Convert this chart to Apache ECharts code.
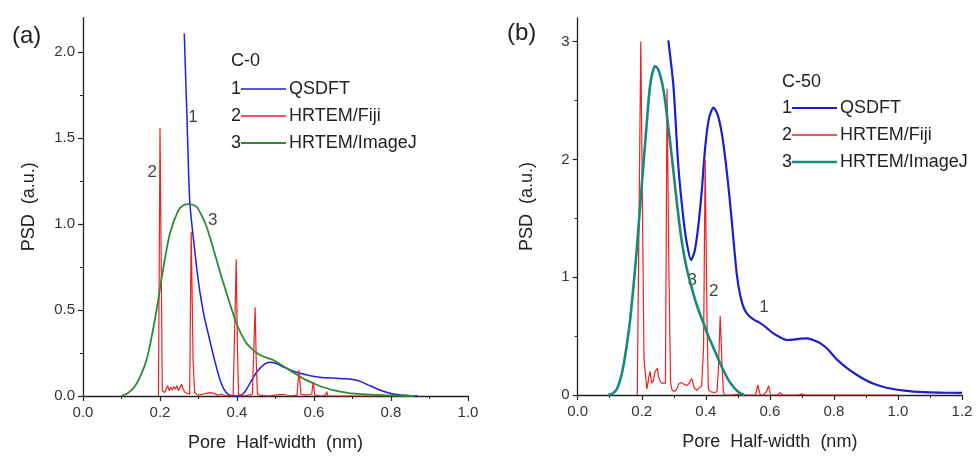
<!DOCTYPE html>
<html>
<head>
<meta charset="utf-8">
<script src="https://cdn.jsdelivr.net/npm/echarts@6/dist/echarts.min.js"></script>
<style>
  html, body { margin: 0; padding: 0; background: #fff; }
  #chart { width: 976px; height: 462px; }
</style>
</head>
<body>
<div id="chart"></div>
<script>
// ── Data: panel (a) C-0 ─────────────────────────────────────────────
const qsdftA = [
  [0.263, 2.107], [0.270, 1.62], [0.277, 1.14], [0.285, 0.95], [0.295, 0.75], [0.304, 0.60],
  [0.315, 0.46], [0.325, 0.365], [0.335, 0.27], [0.345, 0.18], [0.356, 0.093], [0.366, 0.04],
  [0.377, 0.01], [0.39, 0.002], [0.405, 0.0], [0.415, 0.01], [0.425, 0.04], [0.44, 0.10],
  [0.455, 0.15], [0.47, 0.183], [0.486, 0.196], [0.50, 0.19], [0.52, 0.17], [0.54, 0.15],
  [0.564, 0.132], [0.59, 0.118], [0.62, 0.108], [0.65, 0.104], [0.68, 0.10], [0.70, 0.096],
  [0.72, 0.085], [0.74, 0.065], [0.76, 0.045], [0.78, 0.028], [0.80, 0.015], [0.82, 0.007],
  [0.85, 0.002], [0.87, 0.0]
];
const fijiA = [
  [0.196, 0.0], [0.200, 1.56], [0.206, 0.03], [0.212, 0.02], [0.216, 0.04], [0.22, 0.06],
  [0.224, 0.03], [0.228, 0.05], [0.232, 0.035], [0.236, 0.055], [0.24, 0.04], [0.244, 0.06],
  [0.248, 0.03], [0.252, 0.05], [0.256, 0.07], [0.26, 0.04], [0.265, 0.02], [0.27, 0.01],
  [0.277, 0.01], [0.281, 0.953], [0.286, 0.2], [0.29, 0.02], [0.30, 0.005], [0.31, 0.01],
  [0.315, 0.02], [0.32, 0.015], [0.325, 0.025], [0.33, 0.02], [0.335, 0.01], [0.34, 0.015],
  [0.35, 0.005], [0.36, 0.01], [0.37, 0.0], [0.38, 0.005], [0.39, 0.0], [0.395, 0.01],
  [0.398, 0.795], [0.401, 0.3], [0.404, 0.01], [0.41, 0.005], [0.42, 0.0], [0.43, 0.005],
  [0.44, 0.01], [0.444, 0.3], [0.447, 0.516], [0.45, 0.2], [0.453, 0.01], [0.46, 0.005],
  [0.48, 0.0], [0.50, 0.005], [0.52, 0.01], [0.54, 0.0], [0.556, 0.005], [0.561, 0.151],
  [0.566, 0.01], [0.58, 0.005], [0.594, 0.01], [0.598, 0.083], [0.602, 0.005], [0.62, 0.0],
  [0.63, 0.005], [0.633, 0.025], [0.636, 0.0], [0.65, 0.0], [0.70, 0.0], [0.80, 0.0]
];
const imagejA = [
  [0.10, 0.0], [0.115, 0.015], [0.131, 0.045], [0.148, 0.11], [0.165, 0.209], [0.178, 0.34],
  [0.191, 0.5], [0.209, 0.75], [0.226, 0.946], [0.248, 1.081], [0.262, 1.11], [0.274, 1.116],
  [0.285, 1.112], [0.295, 1.10], [0.308, 1.05], [0.321, 0.984], [0.334, 0.89], [0.347, 0.79],
  [0.36, 0.69], [0.373, 0.597], [0.386, 0.505], [0.399, 0.42], [0.412, 0.355], [0.425, 0.306],
  [0.443, 0.265], [0.46, 0.238], [0.477, 0.222], [0.494, 0.209], [0.51, 0.188], [0.529, 0.161],
  [0.546, 0.136], [0.564, 0.112], [0.58, 0.092], [0.598, 0.074], [0.615, 0.058], [0.633, 0.045],
  [0.65, 0.034], [0.668, 0.025], [0.69, 0.017], [0.719, 0.012], [0.75, 0.008], [0.78, 0.005],
  [0.82, 0.002], [0.86, 0.0]
];
const notesA = [[0.287, 1.62, '1'], [0.181, 1.30, '2'], [0.338, 1.02, '3']];

// ── Data: panel (b) C-50 ────────────────────────────────────────────
const qsdftB = [
  [0.283, 3.01], [0.299, 2.62], [0.314, 1.95], [0.33, 1.50], [0.342, 1.27], [0.354, 1.146],
  [0.365, 1.22], [0.375, 1.40], [0.387, 1.72], [0.398, 2.10], [0.41, 2.35], [0.424, 2.44],
  [0.437, 2.38], [0.45, 2.22], [0.462, 1.98], [0.474, 1.68], [0.486, 1.33], [0.497, 1.02],
  [0.508, 0.84], [0.52, 0.73], [0.535, 0.67], [0.55, 0.64], [0.57, 0.61], [0.59, 0.57],
  [0.61, 0.525], [0.632, 0.49], [0.653, 0.467], [0.675, 0.47], [0.695, 0.478], [0.716, 0.48],
  [0.737, 0.465], [0.757, 0.44], [0.78, 0.39], [0.81, 0.30], [0.84, 0.23], [0.872, 0.17],
  [0.90, 0.125], [0.924, 0.095], [0.95, 0.072], [0.976, 0.055], [1.02, 0.037], [1.08, 0.024],
  [1.14, 0.02], [1.2, 0.018]
];
const fijiB = [
  [0.186, 0.0], [0.197, 3.0], [0.207, 0.3], [0.216, 0.05], [0.222, 0.15], [0.226, 0.2],
  [0.231, 0.1], [0.236, 0.12], [0.242, 0.2], [0.249, 0.226], [0.253, 0.15], [0.257, 0.12],
  [0.262, 0.1], [0.268, 0.09], [0.274, 0.1], [0.279, 2.6], [0.285, 1.0], [0.29, 0.1],
  [0.295, 0.04], [0.302, 0.03], [0.309, 0.05], [0.317, 0.1], [0.325, 0.105], [0.333, 0.09],
  [0.341, 0.08], [0.348, 0.1], [0.356, 0.14], [0.364, 0.06], [0.372, 0.04], [0.38, 0.06],
  [0.387, 0.08], [0.393, 0.4], [0.398, 1.995], [0.404, 0.6], [0.408, 0.05], [0.413, 0.03],
  [0.419, 0.02], [0.427, 0.02], [0.435, 0.03], [0.439, 0.2], [0.445, 0.67], [0.45, 0.3],
  [0.455, 0.02], [0.46, 0.0], [0.48, 0.0], [0.50, 0.005], [0.52, 0.0], [0.54, 0.0],
  [0.555, 0.0], [0.5625, 0.085], [0.57, 0.0], [0.58, 0.0], [0.59, 0.03], [0.596, 0.08],
  [0.602, 0.0], [0.61, 0.0], [0.625, 0.0], [0.632, 0.02], [0.64, 0.0], [0.66, 0.0],
  [0.69, 0.0], [0.70, 0.01], [0.71, 0.0], [0.75, 0.0], [0.85, 0.0], [1.0, 0.0]
];
const imagejB = [
  [0.096, 0.0], [0.11, 0.015], [0.122, 0.05], [0.133, 0.13], [0.143, 0.25], [0.153, 0.42],
  [0.163, 0.62], [0.174, 0.92], [0.184, 1.22], [0.192, 1.5], [0.2, 1.78], [0.208, 2.05],
  [0.216, 2.32], [0.223, 2.55], [0.229, 2.68], [0.236, 2.76], [0.242, 2.79], [0.25, 2.77],
  [0.257, 2.72], [0.265, 2.63], [0.273, 2.50], [0.28, 2.34], [0.288, 2.16], [0.296, 1.97],
  [0.304, 1.77], [0.312, 1.58], [0.32, 1.40], [0.33, 1.22], [0.34, 1.08], [0.353, 0.94],
  [0.367, 0.806], [0.38, 0.70], [0.393, 0.609], [0.408, 0.50], [0.424, 0.40], [0.44, 0.30],
  [0.455, 0.21], [0.47, 0.13], [0.486, 0.07], [0.50, 0.03], [0.51, 0.012], [0.52, 0.0]
];
const notesB = [[0.359, 0.97, '3'], [0.426, 0.872, '2'], [0.583, 0.736, '1']];

const seriesNames = ['QSDFT', 'HRTEM/Fiji', 'HRTEM/ImageJ'];
const yTicksA = [0, 0.5, 1.0, 1.5, 2.0];
const yTicksB = [0, 1, 2, 3];

// ── Styles ──────────────────────────────────────────────────────────
const FONT = '"Liberation Sans", Arial, sans-serif';
const INK = '#222';
const colorsA = ['#1d1de8', '#ee2020', '#2e8a34'];
const colorsB = ['#1e1ecc', '#ee2020', '#17897b'];
const widthsA = [1.5, 1.2, 1.8];
const widthsB = [2.2, 1.2, 2.6];

function xAxis(gridIndex, max) {
  return {
    type: 'value', gridIndex, min: 0, max, interval: 0.2,
    name: 'Pore  Half-width  (nm)', nameLocation: 'middle', nameGap: 38,
    nameTextStyle: { fontFamily: FONT, fontSize: 18, color: INK },
    axisLine: { show: true, onZero: false, lineStyle: { color: INK, width: 1.3 } },
    axisTick: { show: true, inside: false, length: 5, lineStyle: { color: INK, width: 1.2 } },
    minorTick: { show: true, splitNumber: 2, length: 3, lineStyle: { color: INK, width: 1 } },
    axisLabel: { fontFamily: FONT, fontSize: 15, color: '#333', margin: 9, formatter: v => v.toFixed(1) },
    splitLine: { show: false }
  };
}
function yAxis(gridIndex, max, interval, ticks, fmt, gap) {
  return {
    type: 'value', gridIndex, min: 0, max, interval,
    name: 'PSD  (a.u.)', nameLocation: 'middle', nameGap: gap,
    nameTextStyle: { fontFamily: FONT, fontSize: 18, color: INK },
    axisLine: { show: true, onZero: false, lineStyle: { color: INK, width: 1.3 } },
    axisTick: { show: true, inside: false, length: 5, customValues: ticks, lineStyle: { color: INK, width: 1.2 } },
    minorTick: { show: true, splitNumber: 2, length: 3, lineStyle: { color: INK, width: 1 } },
    axisLabel: { fontFamily: FONT, fontSize: 15, color: '#333', margin: 8, customValues: ticks, formatter: fmt },
    splitLine: { show: false }
  };
}
function line(name, data, idx, color, width) {
  return {
    type: 'line', name, data, xAxisIndex: idx, yAxisIndex: idx,
    showSymbol: false, symbol: 'none', smooth: name === 'HRTEM/Fiji' ? false : 0.25,
    lineStyle: { color, width }, itemStyle: { color }, silent: true, clip: true
  };
}
function notes(data, idx) {
  return {
    type: 'scatter', data, xAxisIndex: idx, yAxisIndex: idx, symbolSize: 1,
    itemStyle: { color: 'rgba(0,0,0,0)' }, silent: true,
    label: { show: true, position: [0, 0], align: 'center', verticalAlign: 'middle',
      formatter: p => p.value[2], fontFamily: FONT, fontSize: 17, color: '#111',
      textBorderWidth: 0 }
  };
}
function legendBlock(x, titleY, rowYs, title, colors, widths) {
  const els = [{ type: 'text', style: { text: title, x, y: titleY, font: '18px ' + FONT, fill: INK, verticalAlign: 'middle' } }];
  seriesNames.forEach((n, i) => {
    els.push({ type: 'text', style: { text: String(i + 1), x, y: rowYs[i], font: '18px ' + FONT, fill: INK, verticalAlign: 'middle' } });
    els.push({ type: 'line', shape: { x1: x + 10, y1: rowYs[i], x2: x + 55, y2: rowYs[i] }, style: { stroke: colors[i], lineWidth: widths[i] } });
    els.push({ type: 'text', style: { text: n, x: x + 58, y: rowYs[i], font: '18px ' + FONT, fill: INK, verticalAlign: 'middle' } });
  });
  return els;
}

const chart = echarts.init(document.getElementById('chart'));
chart.setOption({
  animation: false,
  backgroundColor: '#fff',
  grid: [
    { left: 83, top: 17.6, width: 385, height: 378.4 },
    { left: 577.7, top: 18, width: 384.3, height: 377 }
  ],
  xAxis: [xAxis(0, 1.0), xAxis(1, 1.2)],
  yAxis: [
    yAxis(0, 2.2, 0.5, yTicksA, v => v.toFixed(1), 45),
    yAxis(1, 3.2, 1, yTicksB, v => String(v), 42)
  ],
  series: [
    line(seriesNames[0], qsdftA, 0, colorsA[0], widthsA[0]),
    line(seriesNames[1], fijiA, 0, colorsA[1], widthsA[1]),
    line(seriesNames[2], imagejA, 0, colorsA[2], widthsA[2]),
    notes(notesA, 0),
    line(seriesNames[0], qsdftB, 1, colorsB[0], widthsB[0]),
    line(seriesNames[1], fijiB, 1, colorsB[1], widthsB[1]),
    line(seriesNames[2], imagejB, 1, colorsB[2], widthsB[2]),
    notes(notesB, 1)
  ],
  graphic: [
    { type: 'text', style: { text: '(a)', x: 12, y: 36, font: '24px ' + FONT, fill: INK, verticalAlign: 'middle' } },
    { type: 'text', style: { text: '(b)', x: 507, y: 33, font: '24px ' + FONT, fill: INK, verticalAlign: 'middle' } },
    ...legendBlock(231, 61, [89, 116, 143], 'C-0', colorsA, [1.5, 1.5, 1.8]),
    ...legendBlock(782, 82, [108, 135, 162], 'C-50', colorsB, [2, 1.5, 2.4])
  ]
});
</script>
</body>
</html>
